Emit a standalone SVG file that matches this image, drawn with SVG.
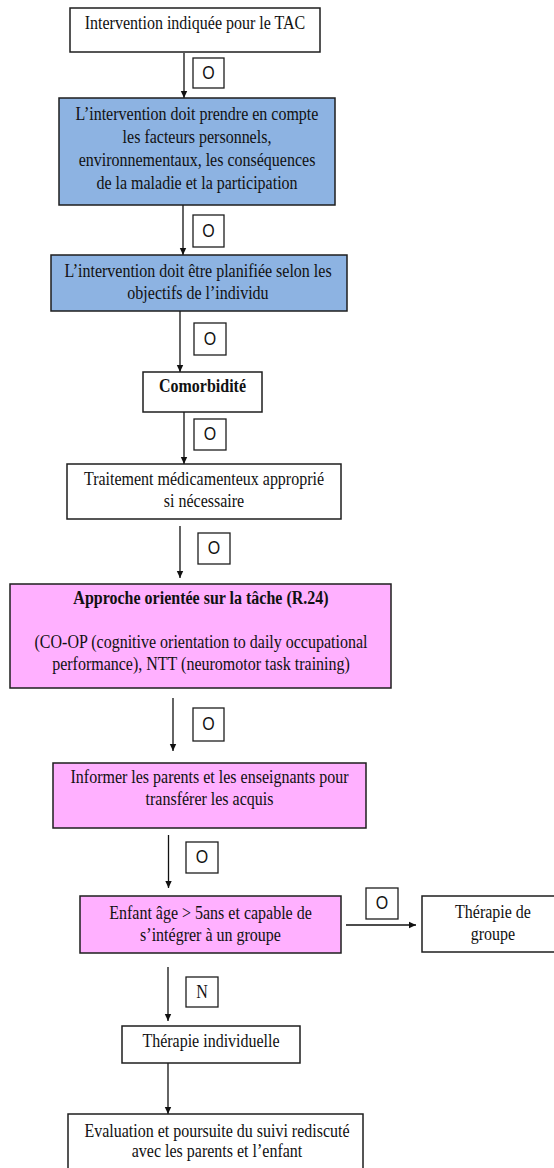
<svg xmlns="http://www.w3.org/2000/svg" width="554" height="1168" viewBox="0 0 554 1168">
  <defs>
    <marker id="arrow" markerWidth="8" markerHeight="8" refX="7" refY="4" orient="auto" markerUnits="userSpaceOnUse">
      <path d="M0,0.8 L7,4 L0,7.2 Z" fill="#111"/>
    </marker>
    <style>
      .box { stroke: #1e1e1e; stroke-width: 1.5; fill: #ffffff; }
      .blue { fill: #8db3e2; }
      .pink { fill: #ffb0ff; }
      .lbl { stroke: #1e1e1e; stroke-width: 1.3; fill: #ffffff; }
      .t { font-family: "Liberation Serif", "Times New Roman", serif; font-size: 16px; fill: #111; text-anchor: middle; }
      .b { font-weight: bold; }
      .o { font-family: "Liberation Sans", Arial, sans-serif; font-size: 16px; fill: #111; text-anchor: middle; }
      .c { stroke: #111; stroke-width: 1.3; fill: none; marker-end: url(#arrow); }
    </style>
  </defs>
  <rect width="554" height="1168" fill="#ffffff"/>

  <!-- connectors and their O / N tags; glyphs are drawn slightly tall (scale 1 1.15) -->
  <g id="connectors">
    <line class="c" x1="184" y1="53" x2="184" y2="98"/>
    <rect class="lbl" x="193" y="58" width="31" height="30"/>
    <text class="o" transform="translate(208.5 79) scale(1 1.15)">O</text>

    <line class="c" x1="183" y1="205" x2="183" y2="255"/>
    <rect class="lbl" x="193" y="215" width="31" height="32"/>
    <text class="o" transform="translate(208.5 237) scale(1 1.15)">O</text>

    <line class="c" x1="180" y1="311" x2="180" y2="372"/>
    <rect class="lbl" x="194" y="323" width="32" height="32"/>
    <text class="o" transform="translate(210 345) scale(1 1.15)">O</text>

    <line class="c" x1="184" y1="412" x2="184" y2="464"/>
    <rect class="lbl" x="194" y="419" width="32" height="31"/>
    <text class="o" transform="translate(210 440) scale(1 1.15)">O</text>

    <line class="c" x1="180" y1="526" x2="180" y2="578"/>
    <rect class="lbl" x="198" y="533" width="32" height="31"/>
    <text class="o" transform="translate(214 554) scale(1 1.15)">O</text>

    <line class="c" x1="173" y1="698" x2="173" y2="751"/>
    <rect class="lbl" x="193" y="708" width="31" height="33"/>
    <text class="o" transform="translate(208.5 730) scale(1 1.15)">O</text>

    <line class="c" x1="168.5" y1="835" x2="168.5" y2="888"/>
    <rect class="lbl" x="186" y="842" width="32" height="31"/>
    <text class="o" transform="translate(202 863) scale(1 1.15)">O</text>

    <line class="c" x1="346" y1="925" x2="416" y2="925"/>
    <rect class="lbl" x="366" y="888" width="32" height="31"/>
    <text class="o" transform="translate(382 909) scale(1 1.15)">O</text>

    <line class="c" x1="168" y1="967" x2="168" y2="1021"/>
    <rect class="lbl" x="186" y="977" width="32" height="30"/>
    <text class="t" transform="translate(202 998) scale(1 1.15)">N</text>

    <line class="c" x1="168" y1="1063" x2="168" y2="1114"/>
  </g>

  <g id="n-indication">
    <rect class="box" x="70" y="8" width="250" height="44"/>
    <text class="t" transform="translate(195 29) scale(1 1.15)">Intervention indiquée pour le TAC</text>
  </g>

  <g id="n-facteurs">
    <rect class="box blue" x="59" y="98" width="276" height="107"/>
    <text class="t" transform="translate(197 120) scale(1 1.15)">L’intervention doit prendre en compte</text>
    <text class="t" transform="translate(197 143) scale(1 1.15)">les facteurs personnels,</text>
    <text class="t" transform="translate(197 166) scale(1 1.15)">environnementaux, les conséquences</text>
    <text class="t" transform="translate(197 189) scale(1 1.15)">de la maladie et la participation</text>
  </g>

  <g id="n-objectifs">
    <rect class="box blue" x="51" y="255" width="296" height="56"/>
    <text class="t" transform="translate(198 277) scale(1 1.15)">L’intervention  doit être planifiée selon les</text>
    <text class="t" transform="translate(198 299) scale(1 1.15)">objectifs de l’individu</text>
  </g>

  <g id="n-comorbidite">
    <rect class="box" x="143" y="372" width="119" height="40"/>
    <text class="t b" transform="translate(202.5 392) scale(1 1.15)">Comorbidité</text>
  </g>

  <g id="n-traitement">
    <rect class="box" x="67" y="464" width="274" height="55"/>
    <text class="t" transform="translate(204 485) scale(1 1.15)">Traitement médicamenteux approprié</text>
    <text class="t" transform="translate(204 507) scale(1 1.15)">si nécessaire</text>
  </g>

  <g id="n-approche">
    <rect class="box pink" x="10" y="584" width="381" height="104"/>
    <text class="t b" transform="translate(201 604) scale(1 1.15)">Approche orientée sur la tâche (R.24)</text>
    <text class="t" transform="translate(201 648) scale(1 1.15)">(CO-OP (cognitive orientation to daily occupational</text>
    <text class="t" transform="translate(201 670) scale(1 1.15)">performance), NTT (neuromotor task training)</text>
  </g>

  <g id="n-informer">
    <rect class="box pink" x="53" y="763" width="313" height="65"/>
    <text class="t" transform="translate(209.5 783) scale(1 1.15)">Informer les parents et les enseignants pour</text>
    <text class="t" transform="translate(209.5 805) scale(1 1.15)">transférer les acquis</text>
  </g>

  <g id="n-enfant">
    <rect class="box pink" x="80" y="896" width="261" height="57"/>
    <text class="t" transform="translate(210.5 919) scale(1 1.15)">Enfant âge &gt; 5ans et capable de</text>
    <text class="t" transform="translate(210.5 941) scale(1 1.15)">s’intégrer à un groupe</text>
  </g>

  <g id="n-groupe">
    <rect class="box" x="422" y="896" width="140" height="56"/>
    <text class="t" transform="translate(493 918) scale(1 1.15)">Thérapie de</text>
    <text class="t" transform="translate(493 940) scale(1 1.15)">groupe</text>
  </g>

  <g id="n-individuelle">
    <rect class="box" x="122" y="1026" width="178" height="37"/>
    <text class="t" transform="translate(211 1047) scale(1 1.15)">Thérapie individuelle</text>
  </g>

  <g id="n-evaluation">
    <rect class="box" x="68" y="1114" width="295" height="60"/>
    <text class="t" transform="translate(217 1137) scale(1 1.15)">Evaluation et poursuite du suivi rediscuté</text>
    <text class="t" transform="translate(217 1157) scale(1 1.15)">avec les parents et l’enfant</text>
  </g>
</svg>
